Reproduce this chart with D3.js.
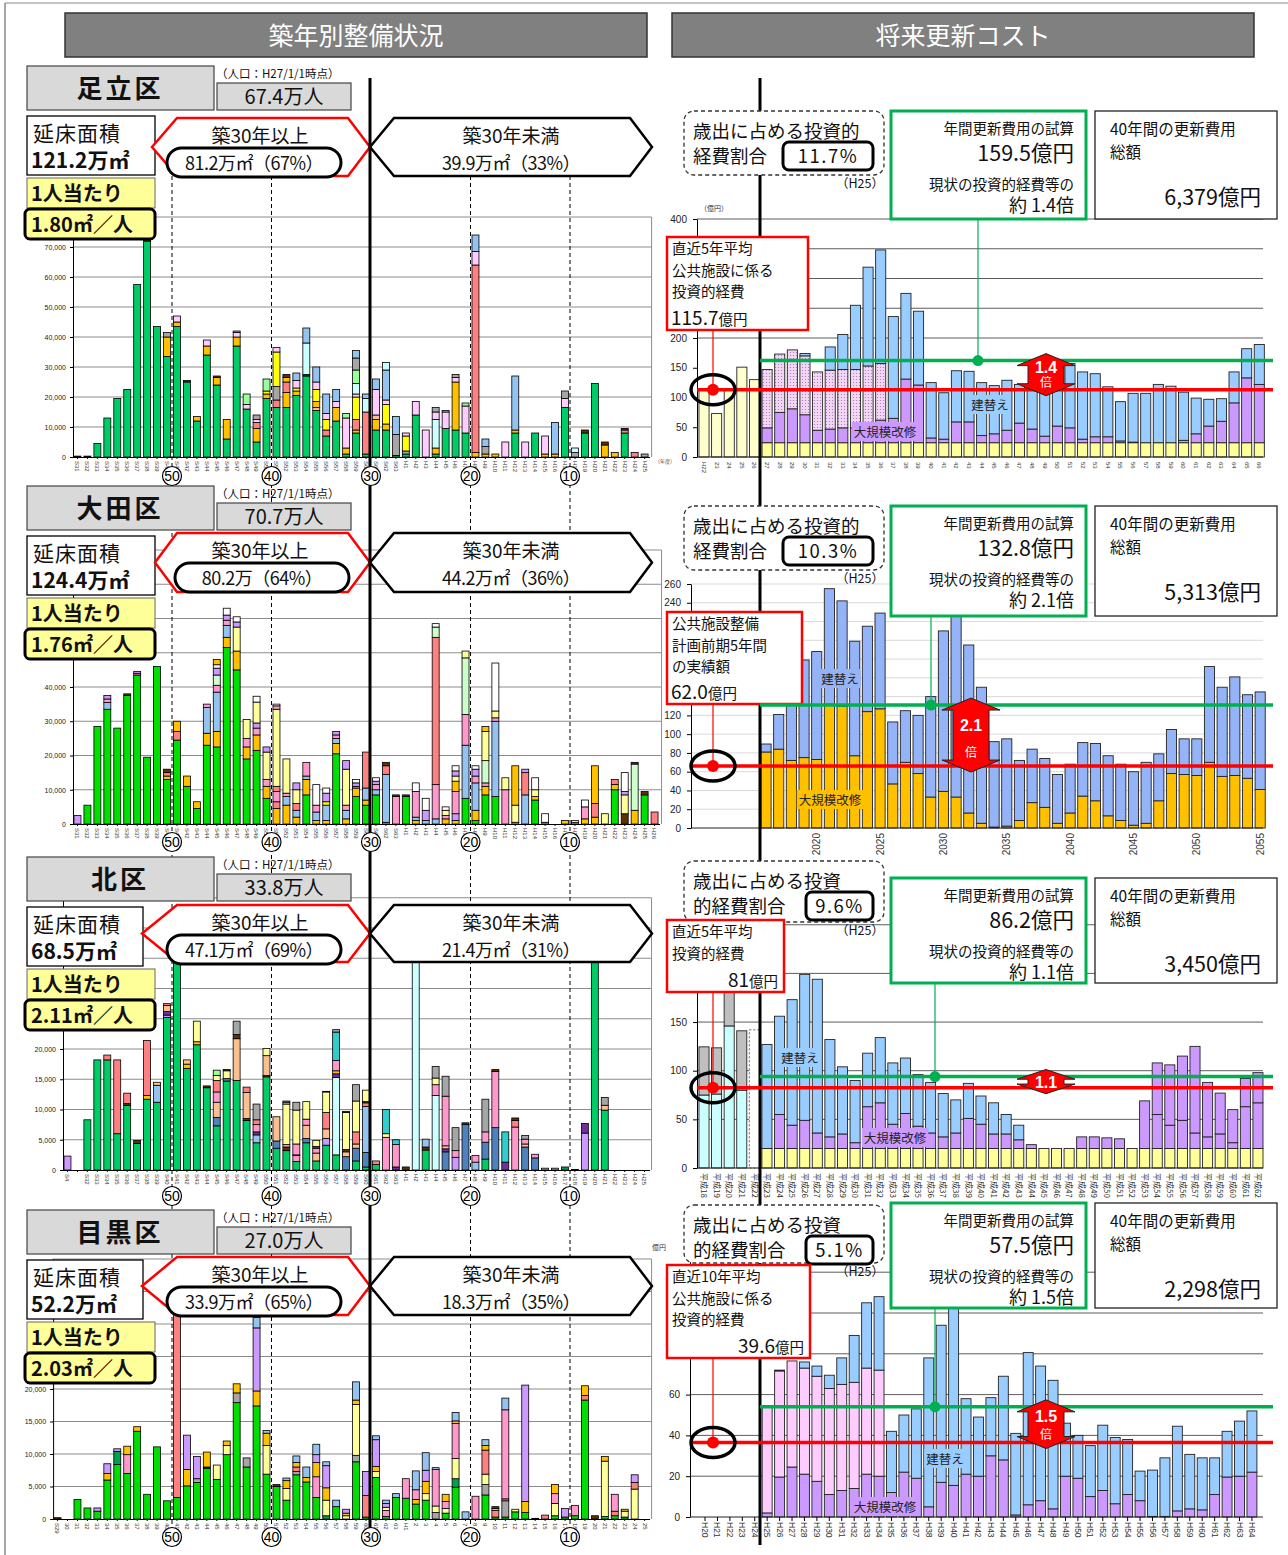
<!DOCTYPE html>
<html>
<head>
<meta charset="utf-8">
<script src="https://cdn.jsdelivr.net/npm/d3@7"></script>
<style>
  body { margin: 0; background: #fff; }
  svg { display: block; }
</style>
</head>
<body>
<div id="chart"></div>
<script>
// ---------------- data ----------------
const districtNames = ["足立区", "大田区", "北区", "目黒区"];
const populations = ["67.4万人", "70.7万人", "33.8万人", "27.0万人"];
const totalAreas = ["121.2万㎡", "124.4万㎡", "68.5万㎡", "52.2万㎡"];
const perCapita = ["1.80㎡／人", "1.76㎡／人", "2.11㎡／人", "2.03㎡／人"];
const oldAreas = ["81.2万㎡（67%）", "80.2万（64%）", "47.1万㎡（69%）", "33.9万㎡（65%）"];
const newAreas = ["39.9万㎡（33%）", "44.2万㎡（36%）", "21.4万㎡（31%）", "18.3万㎡（35%）"];
const ageMarks = ["50", "40", "30", "20", "10"];

const investRatio = ["11.7%", "10.3%", "9.6%", "5.1%"];
const annualCost = ["159.5億円", "132.8億円", "86.2億円", "57.5億円"];
const costTimes = ["約 1.4倍", "約 2.1倍", "約 1.1倍", "約 1.5倍"];
const totalCost = ["6,379億円", "5,313億円", "3,450億円", "2,298億円"];
const arrowRatio = ["1.4", "2.1", "1.1", "1.5"];
const redBoxText = [
  ["直近5年平均", "公共施設に係る", "投資的経費", "115.7"],
  ["公共施設整備", "計画前期5年間", "の実績額", "62.0"],
  ["直近5年平均", "投資的経費", "81"],
  ["直近10年平均", "公共施設に係る", "投資的経費", "39.6"]
];
// annual cost estimate (green) and current investment (red), as drawn, 億円
const greenLevels = [162, 131, 94, 54];
const redLevels = [113, 66, 82.5, 36.5];

// facility categories used in the build-year charts (code -> name)
const buildCategories = {
  g: "学校教育系施設", o: "子育て支援施設", s: "公営住宅", p: "保健・福祉施設",
  k: "高齢福祉施設", b: "行政系施設", y: "区民文化系施設", v: "社会教育系施設",
  l: "スポーツ施設", c: "集会施設", a: "公園施設", e: "医療施設", d: "その他",
  u: "産業系施設", t: "供給処理施設", n: "庁舎", m: "消防施設", w: "倉庫", h: "幼稚園"
};

// build year bars: each string = category code + cumulative top (千㎡)
const adachiBuildYears = ["S31","S32","S33","S34","S35","S36","S37","S38","S39","S40","S41","S42","S43","S44","S45","S46","S47","S48","S49","S50","S51","S52","S53","S54","S55","S56","S57","S58","S59","S60","S61","S62","S63","H1","H2","H3","H4","H5","H6","H7","H8","H9","H10","H11","H12","H13","H14","H15","H16","H17","H18","H19","H20","H21","H22","H23","H24","H25"];
const adachiBuild = ["d0.3","d0.3","g4.5","g13","g19.5","g22.5","g57.5","g72 d72.5","g43.5","g33.5 o40 a41.5",
  "g43.5 o45 p47","g25 d25.5","g12 o13.5","g34 o37 p39","g24 o26.5 d27","g6 o12.5","g37 o40 p41.5 a42","g16 p17.5 l21","g5 o9.5 s11.5 p12.5 a14","g19.5 o21 y22 l26",
  "g16.5 s19 a23.5 y35 p36.5","g16.5 o21.5 s25 o26.5 d27.5","g20.5 o22 y23 p25.5 b28","g27 d27.5 c38 b43","g15.5 e16.5 o18.5 y22.5 p25 b30","g7 s9 y12.5 p14.5 b21","g12 o16.5 p18.5 b22.5","g1 o3 p13 l14.5","g8 o9 s12.5 y20 p21 c24.5 l29 a33 b35.5","g1 s15 c19.5 b21",
  "g9 o12.5 e14 p22.5 b26","g9 o11 y17.5 p19 b29 c31.5","g0.5 a7.5 b13.5","g1 a2 y7 p8","g14 p18.5","p9","g1 o3 c12.5 p15 a16.5","g9.5 p15 b15.5","g9 o25 p26.5 a27.5","g8 p17 l18",
  "o1.5 s64 p68.5 b74","o1 a3.5 b6","o1","p5","g8 o9 b27","p5","g8","o1 p7","o1 b11.5","g16.5 p19.5 a22",
  "a1.5 c3","g8 d9","g24.5","o4 d5","o1.5","g8 s9 d9.5","s1.5","a1"];

const otaBuildYears = ["S31","S32","S33","S34","S35","S36","S37","S38","S39","S40","S41","S42","S43","S44","S45","S46","S47","S48","S49","S50","S51","S52","S53","S54","S55","S56","S57","S58","S59","S60","S61","S62","S63","H1","H2","H3","H4","H5","H6","H7","H8","H9","H10","H11","H12","H13","H14","H15","H16","H17","H18","H19","H20","H21","H22","H23","H24","H25","H26"];
const otaBuild = ["u2.5","g5.5","g28.5","g33.5 b35.5 k36.5 u37.5","g28","g37.5 d38","g43.5 k44 u44.5","g19.5","g46","g13 o14 s15 d16",
  "g24.5 s27 o30","g11 o14","g4.5 o6.5","g23 o26.5 b34 k35","g22.5 o27 b38.5 k40.5 l43.5 u45.5 w46.5 o48","g51.5 o54.5 b58 k59.5 u61 w63","g45 o50.5 v57.5 u59 w60.5","g19 o22.5 k25 v30.5","g21.5 o26 k28 u29.5 v35.6 w37.3","g7.5 o11 k13 v21 u22.5",
  "o4.5 s6.5 k9.5 s11 v33.5 k34.5 w35","o5.5 b8 k9 v19","o2 b4 s6 v10 u12","g8.5 o13 b14 k18","o1 b3.5 k5.5 w11.5","o1 b5.5 y6.5 u9 w10.5","g20.5 o23.5 b25 k26 u27","o1.5 b4 k5.5 v16 u18.5","g8 o10.5 b11 u12 w13","g5.5 o7 b10.5 s21",
  "g8.5 b10 k11.5 u12.5 w13.5","o0.5 b14.5 s17 d18","k8 d8.5","g8 d8.5","o1 b2 k9.5 w12","b1 u4 w7.5","b1.5 k11.5 s54.5 l57.5 w58.5","o1.5 k2.5 v4 w5","o1 u3 k9.5 o12.5 v14 u15.5 w17","g7.5 b23 k32 l48.5 v50.5",
  "g1 o4 b12 k14 u16 w17","g8.5 o11 k12 l18.5 v27 o28.5","g8 b30 k31 v33 w47","k10 v13.5","k0.5 v5.5 o17","b8.5 s15 u16","g7 o8 v10 w13.5","u0.5 w3","","o1",
  "u0.5 w1","o1.5 k5 w7","o2 s6 o17","v3","g10 o11.5 s13","d3 v8.5 u9.5 w15","o4 l17.5 d18","g8.5 d9.5","s3.5"];

const kitaBuildYears = ["S4"," ","S32","S33","S34","S35","S36","S37","S38","S39","S40","S41","S42","S43","S44","S45","S46","S47","S48","S49","S50","S51","S52","S53","S54","S55","S56","S57","S58","S59","S60","S61","S62","S63","H1","H2","H3","H4","H5","H6","H7","H8","H9","H10","H11","H12","H13","H14","H15","H16","H17","H18","H19","H20","H21","H22","H23","H24","H25"];
const kitaBuild = ["u2.3","","g8.3","g18.2","g18.2 s19","g6 s18.2","g10.7 d11 s12.7","g4.4 d4.9","g11.7 o12.3 s21.4","g11.2 b14 e14.5",
  "g25.2 u25.6 m26.2 e27.2 s27.5","g36","g16.8 o17.5 e18.2","g20.7 o21.2 v24.6","g13.6 d13.9","g7.3 n8.7 e11.2 k12.9 s14.8 v15.6 l16.5","g14.7 n15.1 v16.4 d16.6","g14.8 e21.7 d22.4 a24.6","g8.2 d8.5 e12.8 s13.7","g4.5 b5.8 m6.3 k7.5 s8.3 a10.9",
  "g15.4 d15.6 e18.9 v20.1","g3.6 n4.8 e8.8","g3.2 d3.8 k4.2 v10.9 e11.2 a11.4","g1.4 k2.4 e2.5 k4.3 v9.9 a11.2","g4.5 n5.2 e7.4 k8.4 v11.3","g1.5 e2.8 k3.6 m3.9 v4.9","g4.1 u5.2 e6.8 s9.5 v12.9 d13","g2.5 c15.3 m15.9 o16.4 k18.1 t22.8 a23.2","n2.2 e3 d3.4 v9.5 d9.7","g1.5 n3.6 e4.3 s6.3 v11.4 a14.1",
  "g0.5 n2.9 b10.5 s11.1 d11.3 v13.2","g0.9 s1.5","k5.4 v6 t10","m0.5 k4.2 t5","d0.5","c36","g3.3 d3.8 b5.1","c12.3 k14.1 v15.2 a17.1","n3 m3.5 e4 k12.2 a15.5","u2.1 k3.2 a7",
  "n7.5 d7.8","b1.3 k2.4","g1.8 n4.6 k6.3 a11.7","n7 k16.3 d16.6","m1.3 t6.3","k7.1 s8.2 d8.6","n3.8 e4.3 k5.1 a5.7","n2 k2.6","a0.3","a0.3",
  "h0.5","d0.1","u6.1 m7.7","g36","g9.9 e10.7 a12","","","",""];

const meguroBuildYears = ["S29","30","31","32","33","34","35","36","37","38","39","40","41","42","43","44","45","46","47","48","49","50","51","52","53","54","55","56","57","58","59","60","61","62","63","H1","2","3","4","5","6","7","8","9","10","11","12","13","14","15","16","17","18","19","20","21","22","23","24","25"];
const meguroBuild = ["d0.2","","g3","g1.7","g1.2 u1.7","g6 o7 u8.5","g8.4 h10.4 u10.8","g7 k9.9 o11.2","g13.5 o14.2","g3.8",
  "g11.1","g2.8","g3.3 s33","g5.1 o7.6 u12.9","g5.6 a6.2 u9.6","g7.8 d8 o10.3","g6.1 v8.3","g9.9 v11.3 o12","g17.9 a19.4 o20.8","g8 a9.4",
  "g17.4 o19.7 u29.4 b31","g6.9 v11.3 o13.2 b13.6","g5 d5.3","g2.9 v4.7 o5.9 b6.3","g6.8 a7.3 s8 o8.7 b9.7","g5.7 o6.4 b8","g3.3 k6.5 o8.7 u9.9 b11.5","h0.5 v2.9 o4.8 u8.2 b8.8","g1.9 b2.9","v0.5 o0.9 u1.5",
  "g8.8 a9.8 v17.6 o18.3 b21.1","g0.3 s3.6 u7.3","g6.4 v7.3 o8.1 u12.2 b12.8","g0.4 k1.3 v1.8 u2.4 b2.9","g3.3 b3.9","g3.2 k6.2","g2.3 o3 k4.5 b7.4","g2.9 v3.9 o5.8 u7.5 b10.2","a1 v2 k7.6 b7.9","g0.9 v1.6 k2.7 o3.8",
  "g4.9 h6.2 v9.3 k14.7 o15.1 b16.4","b1.1","k3.5","g3.7 a5.3 v6.9 s10.6 o11.3 b12.2","g0.3 s1.3 k1.6 d1.9","g0.3 a2.8 s3.1 k16.8 b18.6","g1.1 v1.5","g1 o2.7 u20.6","d0.1","s0.6",
  "g0.5 v2.4 k3.9 o5.3","g0.3 u1.6","g0.5 k2.1","g18.3 s19 o20.5","d0.5","g0.4 v8.9 o9.6","g0.5 s1.2 k3.8","g0.3 v1.2 o1.5","v4.6 s5.6 u6.8",""];

// future renewal cost (億円)
const adachiCostYears = ["H22","23","24","25","26","27","28","29","30","31","32","33","34","35","36","37","38","39","40","41","42","43","44","45","46","47","48","49","50","51","52","53","54","55","56","57","58","59","60","61","62","63","64","65","66"];
const adachiPast = [112, 73, 112, 151, 130];
const adachiBase = [24,24,24,24,24,24,24,24,24,24,24,24,24,24,24,24,24,24,24,24,24,24,24,24,24,24,24,24,24,24,24,24,24,24,24,24,24,24,24,24];
const adachiKaishu = [25,51,57,47,21,23,25,25,32,38,41,107,97,8,6,35,35,12,15,21,33,23,11,28,25,6,10,10,3,1,0,0,0,4,15,28,36,67,109,98];
const adachiZan = [98,98,99,99,98,99,98,98,97,95,0,0,0,0,0,0,0,0,0,0,0,0,0,0,0,0,0,0,0,0,0,0,0,0,0,0,0,0,0,0];
const adachiTatekae = [0,0,0,4,0,39,59,108,166,191,171,144,124,93,78,86,85,89,81,84,65,76,87,72,108,113,106,84,66,82,83,98,95,81,60,45,38,52,49,67];

const otaCostYears = ["2016","2017","2018","2019","2020","2021","2022","2023","2024","2025","2026","2027","2028","2029","2030","2031","2032","2033","2034","2035","2036","2037","2038","2039","2040","2041","2042","2043","2044","2045","2046","2047","2048","2049","2050","2051","2052","2053","2054","2055"];
const otaTickYears = ["2020","2025","2030","2035","2040","2045","2050","2055"];
const otaKaishu = [81,84,72,75,73,132,130,77,124,127,47,70,58,33,39,33,16,5,1,2,8,27,22,5,16,34,29,13,8,3,5,29,58,57,56,70,55,56,53,41];
const otaTatekae = [8.5,37,68,104,115,123,112,122,91,102,66,55,62,107,171,202,179,145,91,93,64,57,52,52,52,57,61,64,60,57,65,50,47,38,39,102,95,105,89,104];

const kitaCostYears = ["平成18","平成19","平成20","平成21","平成22","平成23","平成24","平成25","平成26","平成27","平成28","平成29","平成30","平成31","平成32","平成33","平成34","平成35","平成36","平成37","平成38","平成39","平成40","平成41","平成42","平成43","平成44","平成45","平成46","平成47","平成48","平成49","平成50","平成51","平成52","平成53","平成54","平成55","平成56","平成57","平成58","平成59","平成60","平成61","平成62"];
const kitaPast = [75, 76, 146, 80];
const kitaPastTop = [49.5, 47.5, 39, 61];
const kitaPlan = [142];
const kitaBase = [20,20,20,20,20,20,20,20,20,20,20,20,20,20,20,20,20,20,20,20,20,20,20,20,20,20,20,20,20,20,20,20,20,20,20,20,20,20,20,20];
const kitaKaishu = [0,35,24,29,16,12,15,6,43,47,25,36,23,16,12,16,31,25,15,15,9,4,0,0,0,12,12,11,10,0,49,35,24,29,16,12,15,6,43,47];
const kitaKaishu2 = [0,0,0,0,0,0,0,0,0,0,0,0,0,0,0,0,0,0,0,0,0,0,0,0,0,0,0,0,0,0,0,53,62,66,89,56,42,34,29,31];
const kitaTatekae = [107,101,129,150,158,100,69,64,55,67,63,57,53,52,44.5,34,36,29,32,20,15,0,0,0,0,0,0,0,0,0,0,0,0,0,0,0,0,0,0,0];

const meguroCostYears = ["H20","H21","H22","H23","H24","H25","H26","H27","H28","H29","H30","H31","H32","H33","H34","H35","H36","H37","H38","H39","H40","H41","H42","H43","H44","H45","H46","H47","H48","H49","H50","H51","H52","H53","H54","H55","H56","H57","H58","H59","H60","H61","H62","H63","H64"];
const meguroKaishu = [2,19.6,24.5,21,17.5,11,13,14,21,20,12,22,19,5,17,15.5,21,20,30,28,1,6,8,4,20,19,10,13,6.5,11,8,0.3,0.3,3,4,3.5,11,19.6,20,22];
const meguroZan = [52,52,52,52,51.5,52,52,52,52,52,0,0,0,0,0,0,0,0,0,0,0,0,0,0,0,0,0,0,0,0,0,0,0,0,0,0,0,0,0,0];
const meguroTatekae = [0,0.4,0,3,5,6.5,13,23,32,36,30,28,34,73,77,89.5,37,29,28.5,41,40,74.6,66,63,26,21,25,32,32.5,27,14.5,22.7,28.7,41.5,26.7,25.5,18,22.4,27,30];

// visible axis tick labels
const adachiBuildTicks = [0, 10, 20, 30, 40, 50, 60, 70];
const otaBuildTicks = [0, 10, 20, 30, 40];
const kitaBuildTicks = [0, 5, 10, 15, 20];
const meguroBuildTicks = [0, 5, 10, 15, 20];
const adachiCostTicks = [0, 50, 100, 150, 200, 400];
const otaCostTicks = [0, 20, 40, 60, 80, 100, 120, 240, 260];
const kitaCostTicks = [0, 50, 100, 150];
const meguroCostTicks = [0, 20, 40, 60];

// ---------------- layout / style ----------------
const W = 1288, H = 1555;
const JP = "'Noto Sans CJK JP','Noto Sans',sans-serif";
const NUM = "'Liberation Sans',Arial,sans-serif";
const rowBase = [0, 420, 791, 1144];

const buildColors = {
  g: "#00cc66", o: "#ffc000", s: "#ff8080", p: "#ffccff", k: "#ff99cc", b: "#95c3f0",
  y: "#ffff00", v: "#ffff99", l: "#99ff99", c: "#ccffff", a: "#a6a6a6", e: "#fac090",
  d: "#5c3300", u: "#cc99ff", t: "#33cccc", n: "#4f81bd", m: "#7030a0", w: "#ffffff", h: "#00a050"
};

const svg = d3.select("#chart").append("svg")
  .attr("width", W).attr("height", H)
  .attr("viewBox", `0 0 ${W} ${H}`);

svg.append("rect").attr("width", W).attr("height", H).attr("fill", "#fff");

const defs = svg.append("defs");
const dots = defs.append("pattern").attr("id", "dots")
  .attr("width", 3).attr("height", 3).attr("patternUnits", "userSpaceOnUse");
dots.append("rect").attr("width", 3).attr("height", 3).attr("fill", "#f3d6f3");
dots.append("circle").attr("cx", 1.5).attr("cy", 1.5).attr("r", 0.6).attr("fill", "#a070b8");

// page frame
svg.append("line").attr("x1", 5).attr("x2", W).attr("y1", 3).attr("y2", 3).attr("stroke", "#888");
svg.append("line").attr("x1", 5).attr("x2", 5).attr("y1", 3).attr("y2", H).attr("stroke", "#888").attr("stroke-width", 1.5);

// headers
[["築年別整備状況", 65, 582], ["将来更新コスト", 672, 582]].forEach(([t, x, w]) => {
  svg.append("rect").attr("x", x).attr("y", 13).attr("width", w).attr("height", 44)
    .attr("fill", "#808080").attr("stroke", "#333").attr("stroke-width", 1.5);
  svg.append("text").attr("x", x + w / 2).attr("y", 45).attr("text-anchor", "middle")
    .attr("font-family", JP).attr("font-size", 25).attr("fill", "#fff").text(t);
});

const chartLayer = svg.append("g");
const lineLayer = svg.append("g");
const boxLayer = svg.append("g");
const topLayer = svg.append("g");

// ---------------- build-year charts ----------------
const buildCfg = [
  { labels: adachiBuildYears, bars: adachiBuild, ticks: adachiBuildTicks, x0: 72.5, zero: 457, k: 3.0, max: 80, step: 10, colors: {} },
  { labels: otaBuildYears, bars: otaBuild, ticks: otaBuildTicks, x0: 72.5, zero: 824, k: 3.425, max: 80, step: 10, colors: { g: "#00e000", l: "#ccffcc" } },
  { labels: kitaBuildYears, bars: kitaBuild, ticks: kitaBuildTicks, x0: 62.5, zero: 1170, k: 6.05, max: 45, step: 5, colors: {} },
  { labels: meguroBuildYears, bars: meguroBuild, ticks: meguroBuildTicks, x0: 52.6, zero: 1519, k: 6.5, max: 40, step: 5, colors: { g: "#00dd00" } }
];
const buildStep = 9.95;
let markScale = null;

buildCfg.forEach((cfg, ri) => {
  const g = chartLayer.append("g");
  const x = d3.scaleBand().domain(cfg.labels)
    .range([cfg.x0, cfg.x0 + cfg.labels.length * buildStep])
    .paddingInner(0.3).paddingOuter(0.15);
  const y = d3.scaleLinear().domain([0, cfg.max]).range([cfg.zero, cfg.zero - cfg.max * cfg.k]);
  if (ri === 0) markScale = x;
  const xEnd = cfg.x0 + cfg.labels.length * buildStep + 2;

  // gridlines
  g.append("g").selectAll("line").data(d3.range(cfg.step, cfg.max + 0.01, cfg.step)).join("line")
    .attr("x1", cfg.x0).attr("x2", xEnd)
    .attr("y1", d => y(d)).attr("y2", d => y(d))
    .attr("stroke", "#8c8c8c").attr("stroke-width", 1);
  g.append("line").attr("x1", xEnd).attr("x2", xEnd).attr("y1", y(cfg.max)).attr("y2", cfg.zero)
    .attr("stroke", "#8c8c8c");

  // stacked segments
  const segs = [];
  cfg.bars.forEach((str, i) => {
    let prev = 0;
    str.split(" ").filter(Boolean).forEach(tok => {
      const top = +tok.slice(1);
      segs.push({ label: cfg.labels[i], cat: tok[0], y0: prev, y1: top });
      prev = top;
    });
  });
  g.append("g").selectAll("rect").data(segs).join("rect")
    .attr("x", d => x(d.label)).attr("width", x.bandwidth())
    .attr("y", d => y(d.y1)).attr("height", d => Math.max(0.6, y(d.y0) - y(d.y1)))
    .attr("fill", d => cfg.colors[d.cat] || buildColors[d.cat])
    .attr("stroke", "#000").attr("stroke-width", 0.8)
    .append("title").text(d => `${d.label} ${buildCategories[d.cat]}`);

  // axes
  g.append("g").attr("transform", `translate(${cfg.x0 + 0.5},0)`)
    .call(d3.axisLeft(y).tickValues(cfg.ticks)
      .tickFormat(d => d3.format(",")(d * 1000)).tickSize(3).tickSizeOuter(0).tickPadding(4))
    .call(a => a.selectAll("text").attr("font-family", NUM).attr("font-size", 7).attr("fill", "#222"));
  g.append("g").attr("transform", `translate(0,${cfg.zero})`)
    .call(d3.axisBottom(x).tickSize(2).tickSizeOuter(0))
    .call(a => a.selectAll("text")
      .attr("transform", "rotate(90)").attr("x", 4).attr("y", 0).attr("dy", "0.35em")
      .attr("text-anchor", "start").attr("font-family", NUM).attr("font-size", 6).attr("fill", "#333"));
});
chartLayer.append("text").attr("x", 655).attr("y", 463).attr("font-family", JP)
  .attr("font-size", 5).attr("fill", "#444").text("（年度）");

// age boundaries (right edge of S40, S50, S60, H7, H17)
const markLabels = ["S40", "S50", "S60", "H7", "H17"];
const markX = markLabels.map(l => markScale(l) - markScale.step() * 0.15 + markScale.step());

// ---------------- renewal cost charts ----------------
const costColors = {
  past: "#ffffcc", pastTop: "#bfbfbf", cyan: "#ccffff", plan: "#ffffff", base: "#ffff99",
  kaishu: "#cc99ff", kaishu2: "#cc99ff", zan: "url(#dots)", zanPink: "#ffccff",
  tatekae: "#99ccff", otaKaishu: "#ffc000", otaTatekae: "#95b3f7"
};

const costCfg = [
  { labels: adachiCostYears, ticks: adachiCostTicks, x0: 697.7, step: 12.62, zero: 457, max: 400, k: 0.595,
    grid: [200, 250, 300, 350, 400], gridColor: "#333", axisX: 697, tickLabels: null, rot: 90, fs: 6,
    series: [
      { key: "past", start: "H22", values: adachiPast },
      { key: "base", start: "27", values: adachiBase },
      { key: "kaishu", start: "27", values: adachiKaishu },
      { key: "zan", start: "27", values: adachiZan },
      { key: "tatekae", start: "27", values: adachiTatekae }],
    greenX: 978, tatekaeAt: [990, 405], kaishuAt: [885, 432], arrowX: 1046 },
  { labels: otaCostYears, ticks: otaCostTicks, x0: 759.7, step: 12.67, zero: 828, max: 260, k: 0.9385,
    grid: d3.range(20, 261, 20), gridColor: "#cfcfcf", axisX: 691, tickLabels: otaTickYears, rot: -90, fs: 10,
    series: [
      { key: "otaKaishu", start: "2016", values: otaKaishu },
      { key: "otaTatekae", start: "2016", values: otaTatekae }],
    greenX: 931, tatekaeAt: [840, 679], kaishuAt: [830, 800], arrowX: 971 },
  { labels: kitaCostYears, ticks: kitaCostTicks, x0: 697.7, step: 12.59, zero: 1168, max: 250, k: 0.973,
    grid: [50, 100, 150, 200, 250], gridColor: "#333", axisX: 697, tickLabels: null, rot: 90, fs: 8,
    series: [
      { key: "cyan", start: "平成18", values: kitaPast },
      { key: "pastTop", start: "平成18", values: kitaPastTop },
      { key: "plan", start: "平成22", values: kitaPlan },
      { key: "base", start: "平成23", values: kitaBase },
      { key: "kaishu", start: "平成23", values: kitaKaishu },
      { key: "kaishu2", start: "平成23", values: kitaKaishu2 },
      { key: "tatekae", start: "平成23", values: kitaTatekae }],
    greenX: 935, tatekaeAt: [800, 1058], kaishuAt: [895, 1138], arrowX: 1046 },
  { labels: meguroCostYears, ticks: meguroCostTicks, x0: 698.8, step: 12.43, zero: 1517, max: 140, k: 2.04,
    grid: [20, 40, 60, 80, 100, 120], gridColor: "#333", axisX: 690, tickLabels: null, rot: 90, fs: 8.5,
    series: [
      { key: "kaishu", start: "H25", values: meguroKaishu },
      { key: "zanPink", start: "H25", values: meguroZan },
      { key: "tatekae", start: "H25", values: meguroTatekae }],
    greenX: 935, tatekaeAt: [945, 1459], kaishuAt: [885, 1507], arrowX: 1046 }
];

const redBoxes = [[667, 237, 141, 93], [667, 612, 135, 92], [667, 920, 117, 72], [667, 1265, 143, 93]];
const greenBoxes = [[891, 111, 195, 108], [891, 506, 195, 110], [891, 878, 195, 105], [891, 1203, 195, 105]];

costCfg.forEach((cfg, ri) => {
  const g = chartLayer.append("g");
  const x = d3.scaleBand().domain(cfg.labels)
    .range([cfg.x0, cfg.x0 + cfg.labels.length * cfg.step]).paddingInner(0.2).paddingOuter(0.1);
  const y = d3.scaleLinear().domain([0, cfg.max]).range([cfg.zero, cfg.zero - cfg.max * cfg.k]);
  const right = 1263;

  g.append("g").selectAll("line").data(cfg.grid).join("line")
    .attr("x1", cfg.axisX).attr("x2", right).attr("y1", d => y(d)).attr("y2", d => y(d))
    .attr("stroke", cfg.gridColor).attr("stroke-width", 0.8);

  const keys = cfg.series.map(s => s.key);
  const table = cfg.labels.map(l => { const r = { year: l }; keys.forEach(k => r[k] = 0); return r; });
  cfg.series.forEach(s => {
    const st = cfg.labels.indexOf(s.start);
    s.values.forEach((v, i) => { table[st + i][s.key] = v; });
  });
  const stacked = d3.stack().keys(keys)(table);

  stacked.forEach(layer => {
    g.append("g").selectAll("rect").data(layer.filter(d => d[1] - d[0] > 0)).join("rect")
      .attr("x", d => x(d.data.year)).attr("width", x.bandwidth())
      .attr("y", d => y(d[1])).attr("height", d => y(d[0]) - y(d[1]))
      .attr("fill", costColors[layer.key])
      .attr("stroke", layer.key === "plan" ? "#555" : "#222")
      .attr("stroke-dasharray", layer.key === "plan" ? "2,2" : null)
      .attr("stroke-width", 0.9);
  });

  // axes
  g.append("g").attr("transform", `translate(${cfg.axisX},0)`)
    .call(d3.axisLeft(y).tickValues(cfg.ticks).tickSize(4).tickSizeOuter(0).tickPadding(6))
    .call(a => a.selectAll("text").attr("font-family", NUM).attr("font-size", 10).attr("fill", "#222"));
  g.append("line").attr("x1", cfg.axisX).attr("x2", right).attr("y1", cfg.zero).attr("y2", cfg.zero)
    .attr("stroke", "#222");
  const xa = d3.axisBottom(x).tickSize(ri === 3 ? 4 : 0).tickSizeOuter(0);
  if (cfg.tickLabels) xa.tickValues(cfg.tickLabels);
  g.append("g").attr("transform", `translate(0,${cfg.zero})`).call(xa)
    .call(a => a.select(".domain").remove())
    .call(a => a.selectAll("text")
      .attr("transform", `rotate(${cfg.rot})`)
      .attr("x", cfg.rot > 0 ? 5 : -5).attr("y", 0).attr("dy", "0.35em")
      .attr("text-anchor", cfg.rot > 0 ? "start" : "end")
      .attr("font-family", ri === 2 ? JP : NUM).attr("font-size", cfg.fs).attr("fill", "#333"));

  // series labels
  [["建替え", cfg.tatekaeAt, ri === 1 ? costColors.otaTatekae : costColors.tatekae],
   ["大規模改修", cfg.kaishuAt, ri === 1 ? costColors.otaKaishu : costColors.kaishu]].forEach(([t, p, c]) => {
    const w = t.length * 12.5 + 4;
    topLayer.append("rect").attr("x", p[0] - w / 2).attr("y", p[1] - 10).attr("width", w).attr("height", 19).attr("fill", c);
    topLayer.append("text").attr("x", p[0]).attr("y", p[1] + 4.5).attr("text-anchor", "middle")
      .attr("font-family", JP).attr("font-size", 12.5).attr("fill", "#222").text(t);
  });

  // level lines
  const gy = y(greenLevels[ri]), ry = y(redLevels[ri]);
  const gb = greenBoxes[ri], rb = redBoxes[ri];
  topLayer.append("line").attr("x1", cfg.greenX).attr("x2", cfg.greenX).attr("y1", gb[1] + gb[3]).attr("y2", gy)
    .attr("stroke", "#00b050").attr("stroke-width", 1.2);
  topLayer.append("line").attr("x1", 713).attr("x2", 713).attr("y1", rb[1] + rb[3]).attr("y2", ry)
    .attr("stroke", "#ff0000").attr("stroke-width", 1.2);
  topLayer.append("line").attr("x1", 760).attr("x2", 1273).attr("y1", gy).attr("y2", gy)
    .attr("stroke", "#00b050").attr("stroke-width", 3.5);
  topLayer.append("line").attr("x1", cfg.axisX).attr("x2", 1273).attr("y1", ry).attr("y2", ry)
    .attr("stroke", "#ff0000").attr("stroke-width", 3.5);
  topLayer.append("circle").attr("cx", cfg.greenX).attr("cy", gy).attr("r", 5.5).attr("fill", "#00b050");
  topLayer.append("circle").attr("cx", 713).attr("cy", ry).attr("r", 6).attr("fill", "#ff0000");
  topLayer.append("ellipse").attr("cx", 713).attr("cy", ry).attr("rx", 22).attr("ry", 15)
    .attr("fill", "none").attr("stroke", "#000").attr("stroke-width", 3.5);

  // ratio arrow
  const cx = cfg.arrowX, t0 = gy - 7, t1 = ry + 6;
  const hw = 29, sw = 18, hh = Math.min(12, (t1 - t0) / 2.5);
  const pts = [[cx, t0], [cx + hw, t0 + hh], [cx + sw, t0 + hh], [cx + sw, t1 - hh], [cx + hw, t1 - hh],
    [cx, t1], [cx - hw, t1 - hh], [cx - sw, t1 - hh], [cx - sw, t0 + hh], [cx - hw, t0 + hh]];
  topLayer.append("polygon").attr("points", pts.map(p => p.join(",")).join(" "))
    .attr("fill", "#ff0000").attr("stroke", "#222").attr("stroke-width", 1);
  const tall = t1 - t0 > 40;
  topLayer.append("text").attr("x", cx).attr("y", tall ? t0 + (t1 - t0) * 0.45 : (t0 + t1) / 2 + 6)
    .attr("text-anchor", "middle").attr("font-family", NUM).attr("font-weight", 700)
    .attr("font-size", 16).attr("fill", "#fff").text(arrowRatio[ri]);
  if (tall) {
    topLayer.append("text").attr("x", cx).attr("y", t0 + (t1 - t0) * 0.8)
      .attr("text-anchor", "middle").attr("font-family", JP).attr("font-size", 12).attr("fill", "#fff").text("倍");
  }
});
chartLayer.append("text").attr("x", 700).attr("y", 211).attr("font-family", JP).attr("font-size", 7).attr("fill", "#333").text("（億円）");
chartLayer.append("text").attr("x", 652).attr("y", 1250).attr("font-family", JP).attr("font-size", 7).attr("fill", "#333").text("億円");

// ---------------- vertical guide lines ----------------
[markX[0], markX[1], markX[3], markX[4]].forEach(xv => {
  lineLayer.append("line").attr("x1", xv).attr("x2", xv).attr("y1", 176).attr("y2", 1545)
    .attr("stroke", "#000").attr("stroke-width", 1).attr("stroke-dasharray", "4,3");
});
lineLayer.append("line").attr("x1", 760).attr("x2", 760).attr("y1", 78).attr("y2", 1545)
  .attr("stroke", "#000").attr("stroke-width", 3);

// ---------------- info boxes ----------------
const hexTop = [118, 113, 114, 113], hexBot = [176, 172, 171, 171];
const areaW = [128, 128, 116, 116], hexLeft = [152, 155, 142, 142];
const dashBoxes = [[684, 111, 200, 64], [684, 506, 200, 64], [684, 861, 200, 61], [684, 1205, 200, 58]];
const ratioLines = [["歳出に占める投資的", "経費割合"], ["歳出に占める投資的", "経費割合"], ["歳出に占める投資", "的経費割合"], ["歳出に占める投資", "的経費割合"]];

function txt(g, x, y, t, size, opts = {}) {
  return g.append("text").attr("x", x).attr("y", y).attr("font-family", opts.family || JP)
    .attr("font-size", size).attr("font-weight", opts.bold ? 700 : 400)
    .attr("text-anchor", opts.anchor || "start").attr("fill", opts.fill || "#111").text(t);
}

districtNames.forEach((name, i) => {
  const b = rowBase[i], g = boxLayer.append("g");
  g.append("rect").attr("x", 27).attr("y", b + 66).attr("width", 187).attr("height", 44)
    .attr("fill", "#d9d9d9").attr("stroke", "#444").attr("stroke-width", 1.2);
  txt(g, 120, b + 98, name, 26, { anchor: "middle", bold: true }).attr("letter-spacing", 3);
  txt(g, 216, b + 78, "（人口：H27/1/1時点）", 11.5);
  g.append("rect").attr("x", 217).attr("y", b + 83).attr("width", 134).attr("height", 27)
    .attr("fill", "#d9d9d9").attr("stroke", "#444").attr("stroke-width", 1.2);
  txt(g, 284, b + 104, populations[i], 20, { anchor: "middle" });

  g.append("rect").attr("x", 27).attr("y", b + 116).attr("width", areaW[i]).attr("height", 59)
    .attr("fill", "#fff").attr("stroke", "#000").attr("stroke-width", 1.3);
  txt(g, 33, b + 141, "延床面積", 21).attr("letter-spacing", 1);
  txt(g, 31, b + 168, totalAreas[i], 21, { bold: true });
  g.append("rect").attr("x", 27).attr("y", b + 178).attr("width", 128).attr("height", 30)
    .attr("fill", "#ffff99").attr("stroke", "#666");
  txt(g, 31, b + 201, "1人当たり", 20, { bold: true });
  g.append("rect").attr("x", 25).attr("y", b + 209).attr("width", 130).attr("height", 30).attr("rx", 5)
    .attr("fill", "#ffff99").attr("stroke", "#000").attr("stroke-width", 3);
  txt(g, 31, b + 232, perCapita[i], 20, { bold: true });

  const t = b + hexTop[i], bt = b + hexBot[i], m = (t + bt) / 2;
  g.append("polygon").attr("points", [[hexLeft[i], m], [177, t], [348, t], [370, m], [348, bt], [177, bt]].map(p => p.join(",")).join(" "))
    .attr("fill", "#fff").attr("stroke", "#ff0000").attr("stroke-width", 2.5);
  txt(g, 260, t + 25, "築30年以上", 19, { anchor: "middle" });
  g.append("rect").attr("x", i === 1 ? 175 : 167).attr("y", t + 30).attr("width", 174).attr("height", 29).attr("rx", 14.5)
    .attr("fill", "#fff").attr("stroke", "#000").attr("stroke-width", 3);
  txt(g, i === 1 ? 262 : 254, t + 52, oldAreas[i], 18, { anchor: "middle" }).attr("letter-spacing", -0.5);
  g.append("polygon").attr("points", [[370, m], [394, t], [630, t], [652, m], [630, bt], [394, bt]].map(p => p.join(",")).join(" "))
    .attr("fill", "#fff").attr("stroke", "#000").attr("stroke-width", 2.5);
  txt(g, 511, t + 25, "築30年未満", 19, { anchor: "middle" });
  txt(g, 511, t + 52, newAreas[i], 18, { anchor: "middle" }).attr("letter-spacing", -0.5);

  // right side boxes
  const [dx, dy, dw, dh] = dashBoxes[i];
  g.append("rect").attr("x", dx).attr("y", dy).attr("width", dw).attr("height", dh).attr("rx", 10)
    .attr("fill", "#fff").attr("stroke", "#333").attr("stroke-width", 1.3).attr("stroke-dasharray", "4,3");
  txt(g, dx + 9, dy + 27, ratioLines[i][0], 18.5);
  txt(g, dx + 9, dy + 52, ratioLines[i][1], 18.5);
  const px = i < 2 ? 783 : 806;
  g.append("rect").attr("x", px).attr("y", dy + 31).attr("width", 873 - px).attr("height", 28).attr("rx", 6)
    .attr("fill", "#fff").attr("stroke", "#000").attr("stroke-width", 3);
  txt(g, (px + 873) / 2, dy + 52, investRatio[i], 18.5, { anchor: "middle" }).attr("letter-spacing", 1.5);
  txt(g, 860, dy + dh + 13, "（H25）", 12.5, { anchor: "middle" });

  const [gx, gy0, gw, gh] = greenBoxes[i];
  g.append("rect").attr("x", gx).attr("y", gy0).attr("width", gw).attr("height", gh)
    .attr("fill", "#fff").attr("stroke", "#00b050").attr("stroke-width", 3);
  txt(g, gx + gw - 12, gy0 + 23, "年間更新費用の試算", 14.5, { anchor: "end" });
  txt(g, gx + gw - 12, gy0 + 50, annualCost[i], 21.5, { anchor: "end" });
  txt(g, gx + gw - 12, gy0 + 79, "現状の投資的経費等の", 14.5, { anchor: "end" });
  txt(g, gx + gw - 12, gy0 + 101, costTimes[i], 18, { anchor: "end" });

  g.append("rect").attr("x", 1095).attr("y", gy0).attr("width", 182).attr("height", gh)
    .attr("fill", "#fff").attr("stroke", "#222").attr("stroke-width", 1.3);
  txt(g, 1110, gy0 + 24, "40年間の更新費用", 15.5);
  txt(g, 1110, gy0 + 47, "総額", 15.5);
  txt(g, 1261, gy0 + 94, totalCost[i], 21.5, { anchor: "end" });

  const [rx, ry0, rw, rh] = redBoxes[i];
  g.append("rect").attr("x", rx).attr("y", ry0).attr("width", rw).attr("height", rh)
    .attr("fill", "#fff").attr("stroke", "#ff0000").attr("stroke-width", 2.5);
  const lines = redBoxText[i];
  lines.slice(0, -1).forEach((l, j) => txt(g, rx + 5, ry0 + 17 + j * 21.5, l, 14.5));
  const valY = ry0 + rh - 5;
  const vt = g.append("text").attr("y", valY).attr("font-family", JP).attr("fill", "#111");
  if (i < 2) vt.attr("x", rx + 4).attr("text-anchor", "start");
  else vt.attr("x", rx + rw - 6).attr("text-anchor", "end");
  vt.append("tspan").attr("font-size", 19).text(lines[lines.length - 1]);
  vt.append("tspan").attr("font-size", 14.5).text("億円");
});

// 30-year divider
topLayer.append("line").attr("x1", 370).attr("x2", 370).attr("y1", 78).attr("y2", 1530)
  .attr("stroke", "#000").attr("stroke-width", 3);

// circled age marks
const markY = [476, 842, 1196, 1537];
markY.forEach(yv => {
  markX.forEach((xv, j) => {
    topLayer.append("circle").attr("cx", xv).attr("cy", yv).attr("r", 9.5)
      .attr("fill", "#fff").attr("stroke", "#000").attr("stroke-width", 1.2);
    topLayer.append("text").attr("x", xv).attr("y", yv + 5).attr("text-anchor", "middle")
      .attr("font-family", NUM).attr("font-size", 14).attr("fill", "#000").text(ageMarks[j]);
  });
});
</script>
</body>
</html>
